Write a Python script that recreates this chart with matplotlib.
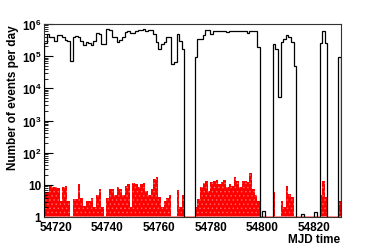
import numpy as np
import matplotlib.pyplot as plt
from matplotlib.ticker import FixedLocator, FixedFormatter, LogLocator, NullLocator, NullFormatter

plt.rcParams['font.family'] = ['Liberation Sans', 'DejaVu Sans']
plt.rcParams['font.weight'] = 'bold'
plt.rcParams['mathtext.fontset'] = 'custom'
plt.rcParams['mathtext.rm'] = 'Liberation Sans:bold'
plt.rcParams['mathtext.bf'] = 'Liberation Sans:bold'
plt.rcParams['hatch.linewidth'] = 0.5

# Histogram range (MJD) and number of daily bins
mjd_min, mjd_max, nbins = 54715.5, 54830.3, 114

# All events per day (black)
all_events = [
    2.5e5, 4.9e5, 4.0e5, 4.0e5, 3.0e5, 4.6e5, 4.6e5, 3.9e5, 3.2e5, 3.0e5,
    7.2e4, 3.9e5, 4.3e5, 4.0e5, 3.0e5, 2.2e5, 2.7e5, 2.5e5, 2.2e5, 3.0e5,
    5.2e5, 5.0e5, 2.4e5, 2.4e5, 6.9e5, 6.6e5, 4.0e5, 3.9e5, 2.7e5, 3.2e5,
    3.9e5, 5.5e5, 6.2e5, 5.2e5, 5.2e5, 6.2e5, 6.6e5, 6.6e5, 6.9e5, 6.0e5,
    6.3e5, 6.6e5, 4.9e5, 2.8e5, 1.7e5, 2.4e5, 2.8e5, 4.0e5, 3.9e5, 5.8e4,
    6.5e4, 4.9e5, 3.0e5, 1.7e5, 0, 0, 0, 0, 9.1e4, 3.4e5,
    3.4e5, 4.6e5, 6.3e5, 6.3e5, 4.9e5, 5.9e5, 5.9e5, 5.9e5, 5.9e5, 6.2e5,
    5.5e5, 6.2e5, 5.9e5, 5.9e5, 5.9e5, 6.2e5, 6.2e5, 6.2e5, 5.2e5, 6.2e5,
    6.2e5, 6.2e5, 1.9e5, 0, 1.5, 0, 0, 0, 2.4e5, 1.7e5,
    5.2e3, 2.7e5, 3.4e5, 4.4e5, 4.0e5, 2.7e5, 5.0e4, 0, 0, 1.2,
    0, 0, 0, 0, 1.4, 0, 2.5e5, 5.9e5, 2.5e5, 0,
    0, 0, 0, 9.5e4,
]

# Selected events per day (red)
sel_events = [
    6, 6, 10, 8.4, 8.4, 8, 3.2, 8.4, 9.4, 3.2,
    0, 3.5, 3.5, 11, 3.8, 2.2, 3.2, 3.2, 3.8, 2,
    4.7, 7.4, 2, 0, 3.8, 7.4, 7.4, 4.7, 8.4, 7.4,
    4.7, 9.4, 10.5, 2, 11.8, 10.5, 8.4, 10.5, 11.8, 6.6,
    4.7, 7.4, 15, 18, 4.2, 2, 3.2, 3.8, 4.7, 0,
    0, 7, 2, 4.7, 0, 0, 0, 0, 2, 3.6,
    8.4, 11.4, 13.4, 6.6, 12, 13.4, 14.4, 10.5, 12, 14.4,
    8.4, 10.5, 9.4, 17.5, 12.8, 8.4, 12.8, 13.4, 12.5, 23,
    7.4, 5, 3.2, 0, 0, 0, 0, 0, 6.1, 0,
    0, 3.2, 2, 9, 5.3, 4.1, 0, 0, 0, 0,
    0, 0, 0, 0, 0, 0, 5, 13.4, 4.1, 0,
    0, 0, 0, 3.2,
]

xticks = [54720, 54740, 54760, 54780, 54800, 54820]
yticks = [1, 10, 1e2, 1e3, 1e4, 1e5, 1e6]
ytick_labels = ['1', '10', r'$10^{2}$', r'$10^{3}$', r'$10^{4}$', r'$10^{5}$', r'$10^{6}$']

edges = np.linspace(mjd_min, mjd_max, nbins + 1)
black = np.array(all_events, dtype=float)
black[black <= 0] = 1e-3   # empty days fall off the bottom
red = np.array(sel_events, dtype=float)
red[red <= 0] = 1e-3

fig = plt.figure(figsize=(3.71, 2.51), dpi=100)
ax = fig.add_axes([44 / 371, 1 - 218 / 251, 296.5 / 371, 193 / 251])

ax.stairs(red, edges, baseline=1e-3, fill=True, facecolor='#ff0000',
          edgecolor='#ff6a6a', hatch='....', linewidth=0)
ax.axhline(1, color='#ff7a7a', lw=1.2, zorder=3)
ax.stairs(black, edges, baseline=1e-3, color='black', lw=0.9, zorder=4)

ax.set_yscale('log')
ax.set_xlim(mjd_min, mjd_max)
ax.set_ylim(1, 1e6)

ax.xaxis.set_major_locator(FixedLocator(xticks))
ax.xaxis.set_minor_locator(NullLocator())
ax.yaxis.set_major_locator(FixedLocator(yticks))
ax.yaxis.set_major_formatter(FixedFormatter(ytick_labels))
ax.yaxis.set_minor_locator(LogLocator(base=10, subs=np.arange(2, 10)))
ax.yaxis.set_minor_formatter(NullFormatter())

ax.tick_params(which='both', direction='in', labelsize=8.5, top=False, right=False)
ax.tick_params(axis='x', which='major', length=0, pad=3)
ax.tick_params(axis='y', which='major', length=6.5, pad=2)
ax.tick_params(axis='y', which='minor', length=3.2)
for s in ax.spines.values():
    s.set_linewidth(0.8)
    s.set_color('#333333')

fig.text(13 / 371, 1 - 25 / 251, 'Number of events per day', rotation=90,
         ha='center', va='top', fontsize=8.5, fontweight='bold')
fig.text(340 / 371, 1 - 240 / 251, 'MJD time', ha='right', va='center',
         fontsize=8.5, fontweight='bold')

fig.savefig('out.png', dpi=100)
